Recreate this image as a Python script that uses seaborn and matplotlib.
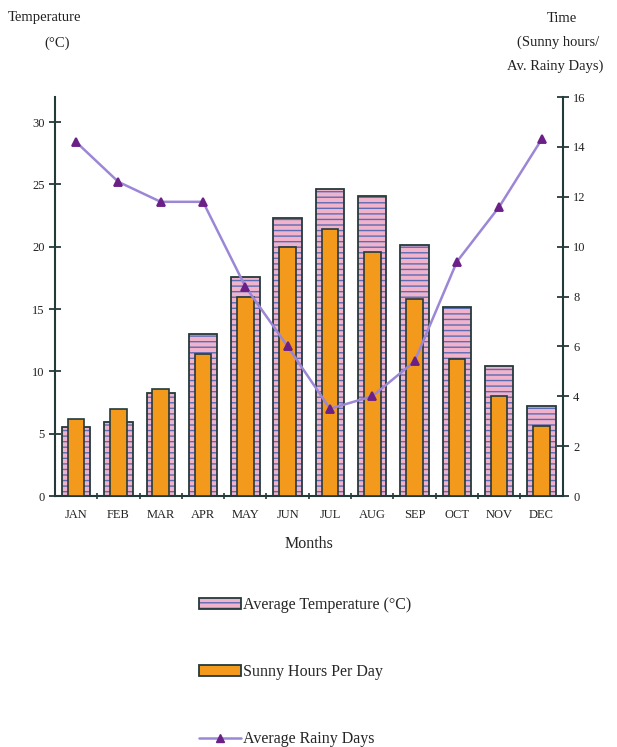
import numpy as np
import matplotlib
matplotlib.use("Agg")
import matplotlib.pyplot as plt
from matplotlib.patches import Patch
from matplotlib.lines import Line2D
from matplotlib.legend_handler import HandlerTuple
import seaborn as sns

# ---- data ----
months = ["JAN", "FEB", "MAR", "APR", "MAY", "JUN",
          "JUL", "AUG", "SEP", "OCT", "NOV", "DEC"]
avg_temp = [5.5, 5.9, 8.3, 13.0, 17.6, 22.3, 24.6, 24.1, 20.1, 15.2, 10.4, 7.2]       # left axis, degC
sunny_hours = [3.1, 3.5, 4.3, 5.7, 8.0, 10.0, 10.7, 9.8, 7.9, 5.5, 4.0, 2.8]          # right axis
rainy_days = [14.2, 12.6, 11.8, 11.8, 8.4, 6.0, 3.5, 4.0, 5.4, 9.4, 11.6, 14.3]       # right axis

# ---- style ----
DARK   = "#243a3a"
PINK   = "#f1b3cc"
BLUE   = "#5b6cb2"
ORANGE = "#f39a1c"
LINE   = "#9c86d6"
MARK   = "#6b2088"

sns.set_style("ticks")
plt.rcParams['font.family'] = ['Liberation Serif', 'DejaVu Serif']
plt.rcParams['hatch.linewidth'] = 1.0

fig = plt.figure(figsize=(6.17, 7.47), dpi=100)
ax = fig.add_axes([0.089, 0.336, 0.823, 0.534])
ax2 = ax.twinx()

# temperature bars: striped layer, then outline layer
sns.barplot(x=months, y=avg_temp, ax=ax, color=PINK, width=0.67,
            edgecolor=BLUE, linewidth=0, saturation=1)
for p in ax.patches:
    p.set_hatch("---")
sns.barplot(x=months, y=avg_temp, ax=ax, color=DARK, width=0.67,
            fill=False, linewidth=1.3)

# sunny hours + rainy days on the right axis
sns.barplot(x=months, y=sunny_hours, ax=ax2, color=ORANGE, width=0.39,
            edgecolor=DARK, linewidth=1.2, saturation=1)
sns.pointplot(x=months, y=rainy_days, ax=ax2, color=LINE, markers="^",
              markersize=6, linewidth=1.8, errorbar=None)
ax2.lines[-1].set_markerfacecolor(MARK)
ax2.lines[-1].set_markeredgecolor(MARK)

# ---- axes ----
ax.set_ylim(0, 32)
ax2.set_ylim(0, 16)
ax.set_xlim(-0.5, 11.5)
ax.set_yticks(np.arange(0, 31, 5))
ax2.set_yticks(np.arange(0, 17, 2))
ax.set_xticks(range(12))
ax.set_xticklabels(months)
ax.set_xticks(np.arange(0.5, 11.5, 1), minor=True)
ax.tick_params(axis="x", which="major", length=0, pad=9, labelsize=9, colors="#222")
ax.tick_params(axis="x", which="minor", length=5, width=1.2, direction="inout", color=DARK)
ax.tick_params(axis="y", length=8, width=1.3, direction="inout", labelsize=9, color=DARK, labelcolor="#222")
ax2.tick_params(axis="y", length=8, width=1.3, direction="inout", labelsize=9, color=DARK, labelcolor="#222")
ax.set_ylabel("")
ax2.set_ylabel("")
ax2.set_xlabel("")
ax.set_xlabel("Months", fontsize=11.5, labelpad=11)

for a in (ax, ax2):
    a.spines["top"].set_visible(False)
    for s in ("left", "right", "bottom"):
        a.spines[s].set_color(DARK)
        a.spines[s].set_linewidth(1.5)
ax.spines["right"].set_visible(False)
ax2.spines["left"].set_visible(False)
ax2.spines["bottom"].set_visible(False)

# ---- axis titles ----
W, H = 617, 747
def ftext(x, y, s):
    fig.text(x / W, 1 - y / H, s, ha="center", va="center", fontsize=10.5, color="#222")

ftext(45, 18, "Temperature")
ftext(57, 43, "(°C)")
ftext(562, 18, "Time")
ftext(558, 42, "(Sunny hours/")
ftext(555, 66, "Av. Rainy Days)")

# ---- legend ----
temp_handle = (Patch(facecolor=PINK, edgecolor=BLUE, hatch="---", linewidth=0),
               Patch(facecolor="none", edgecolor=DARK, linewidth=1.3))
handles = [
    temp_handle,
    Patch(facecolor=ORANGE, edgecolor=DARK, linewidth=1.3),
    Line2D([0], [0], color=LINE, lw=1.8, marker="^", markersize=6,
           markerfacecolor=MARK, markeredgecolor=MARK),
]
labels = ["Average Temperature (°C)", "Sunny Hours Per Day", "Average Rainy Days"]
fig.legend(handles, labels, loc="center", bbox_to_anchor=(0.495, 1 - 672 / H),
           frameon=False, fontsize=11.5, labelspacing=3.2, handlelength=2.6,
           handleheight=0.7, handletextpad=0.15,
           handler_map={tuple: HandlerTuple(ndivide=1, pad=0)})

fig.savefig("out.png", dpi=100, facecolor="white")
